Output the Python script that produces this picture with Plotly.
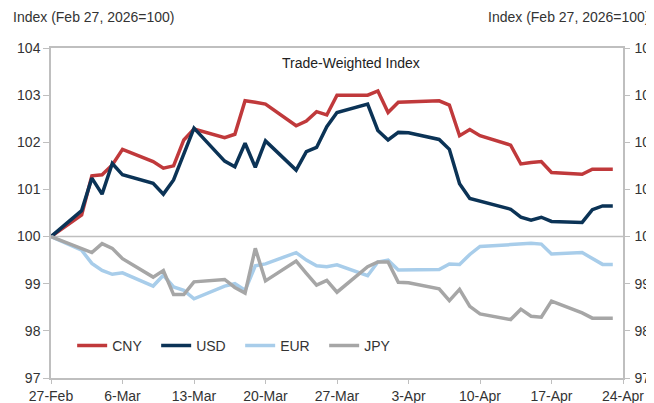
import plotly.graph_objects as go

dates = ["2026-02-27", "2026-03-02", "2026-03-03", "2026-03-04", "2026-03-05", "2026-03-06",
         "2026-03-09", "2026-03-10", "2026-03-11", "2026-03-12", "2026-03-13",
         "2026-03-16", "2026-03-17", "2026-03-18", "2026-03-19", "2026-03-20",
         "2026-03-23", "2026-03-24", "2026-03-25", "2026-03-26", "2026-03-27",
         "2026-03-30", "2026-03-31", "2026-04-01", "2026-04-02", "2026-04-03",
         "2026-04-06", "2026-04-07", "2026-04-08", "2026-04-09", "2026-04-10",
         "2026-04-13", "2026-04-14", "2026-04-15", "2026-04-16", "2026-04-17",
         "2026-04-20", "2026-04-21", "2026-04-22", "2026-04-23"]

cny = [100.00, 100.46, 101.29, 101.31, 101.52, 101.85,
       101.59, 101.45, 101.50, 102.05, 102.28,
       102.10, 102.17, 102.88, 102.85, 102.81,
       102.35, 102.45, 102.65, 102.58, 103.00,
       103.00, 103.09, 102.63, 102.85, 102.86,
       102.88, 102.79, 102.14, 102.27, 102.14,
       101.94, 101.54, 101.57, 101.59, 101.36,
       101.32, 101.43, 101.43, 101.43]

usd = [100.00, 100.55, 101.24, 100.90, 101.55, 101.31,
       101.13, 100.90, 101.20, 101.76, 102.30,
       101.60, 101.48, 101.98, 101.47, 102.03,
       101.41, 101.80, 101.89, 102.33, 102.63,
       102.81, 102.25, 102.05, 102.21, 102.20,
       102.06, 101.85, 101.12, 100.81, 100.75,
       100.58, 100.41, 100.35, 100.41, 100.32,
       100.30, 100.57, 100.65, 100.65]

eur = [100.00, 99.71, 99.43, 99.28, 99.20, 99.23,
       98.95, 99.18, 98.93, 98.86, 98.68,
       98.95, 99.00, 98.86, 99.38, 99.42,
       99.66, 99.50, 99.38, 99.36, 99.40,
       99.17, 99.46, 99.50, 99.29, 99.29,
       99.30, 99.42, 99.41, 99.62, 99.79,
       99.83, 99.85, 99.86, 99.84, 99.63,
       99.66, 99.53, 99.41, 99.41]

jpy = [100.00, 99.73, 99.66, 99.85, 99.75, 99.53,
       99.14, 99.28, 98.77, 98.77, 99.04,
       99.09, 98.92, 98.80, 99.75, 99.06,
       99.48, 99.22, 98.97, 99.07, 98.82,
       99.36, 99.46, 99.46, 99.03, 99.02,
       98.89, 98.64, 98.88, 98.52, 98.36,
       98.24, 98.46, 98.31, 98.29, 98.63,
       98.38, 98.27, 98.27, 98.27]

series_names = ["CNY", "USD", "EUR", "JPY"]
series_values = [cny, usd, eur, jpy]
series_colors = ["#C0393B", "#0B3356", "#A8CDEA", "#A6A6A6"]

y_range = [97, 104]
x_range = ["2026-02-27", "2026-04-24"]
axis_title = "Index (Feb 27, 2026=100)"
chart_title = "Trade-Weighted Index"

FONT = "Liberation Sans, Arial, sans-serif"
TXT = "#333333"
GRID = "#BFBFBF"

fig = go.Figure()
for name, vals, col in zip(series_names, series_values, series_colors):
    fig.add_trace(go.Scatter(x=dates, y=vals, name=name, mode="lines",
                             line=dict(color=col, width=3.5), yaxis="y"))

# invisible trace to activate the right-hand axis
fig.add_trace(go.Scatter(x=[dates[0]], y=[100], yaxis="y2", mode="lines",
                         showlegend=False, hoverinfo="skip", line=dict(width=0)))

# page body has an 8px default margin, so the figure is sized to fit the window
fig.update_layout(
    width=646, height=395,
    margin=dict(l=43, r=31, t=40, b=25, autoexpand=False),
    paper_bgcolor="white", plot_bgcolor="white",
    font=dict(family=FONT, size=14, color=TXT),
    showlegend=True,
    legend=dict(orientation="h", x=0.037, y=0.097, xanchor="left", yanchor="middle",
                bgcolor="rgba(0,0,0,0)", font=dict(size=14, color=TXT),
                entrywidth=39, entrywidthmode="pixels", itemwidth=30),
    xaxis=dict(type="date", range=x_range, tick0="2026-02-27", dtick=7 * 86400000,
               tickformat="%-d-%b", showgrid=False, zeroline=False, automargin=False,
               showline=True, linecolor=GRID, linewidth=1.5, mirror=True,
               ticks="outside", ticklen=4, tickcolor=GRID,
               tickfont=dict(size=14, color=TXT)),
    yaxis=dict(range=y_range, dtick=1, showgrid=False, zeroline=False, automargin=False,
               showline=True, linecolor=GRID, linewidth=1.5,
               ticks="outside", ticklen=6, tickcolor=GRID,
               tickfont=dict(size=14, color=TXT)),
    yaxis2=dict(range=y_range, dtick=1, overlaying="y", side="right", automargin=False,
                showgrid=False, zeroline=False,
                showline=True, linecolor=GRID, linewidth=1.5,
                ticks="outside", ticklen=5, tickcolor=GRID, ticklabelstandoff=2,
                tickfont=dict(size=14, color=TXT)),
    shapes=[dict(type="line", xref="paper", yref="y", x0=0, x1=1, y0=100, y1=100,
                 line=dict(color=GRID, width=1.5), layer="below")],
    annotations=[
        dict(text=axis_title, xref="paper", yref="paper", x=-0.070, y=1.094,
             xanchor="left", yanchor="middle", showarrow=False,
             font=dict(size=14, color=TXT)),
        dict(text=axis_title, xref="paper", yref="paper", x=1.050, y=1.094,
             xanchor="right", yanchor="middle", showarrow=False,
             font=dict(size=14, color=TXT)),
        dict(text=chart_title, xref="paper", yref="paper", x=0.524, y=0.955,
             xanchor="center", yanchor="middle", showarrow=False,
             font=dict(size=14, color="#222222")),
    ],
)

fig.write_html("out.html")
